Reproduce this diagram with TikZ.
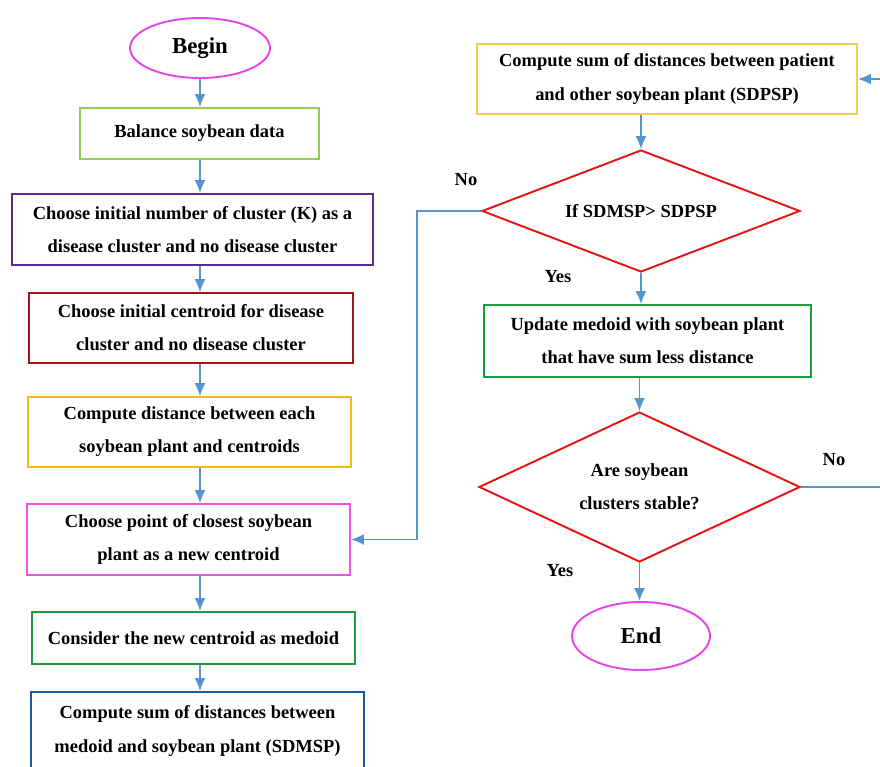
\documentclass[tikz,border=0pt]{standalone}
\usepackage{fontspec}
\setmainfont{Liberation Serif}
\usetikzlibrary{shapes.geometric, arrows.meta, positioning, calc}
\definecolor{flowblue}{RGB}{84,148,207}
\definecolor{ovalpink}{RGB}{230,70,230}
\definecolor{lightgreen}{RGB}{146,204,80}
\definecolor{darkpurple}{RGB}{95,40,140}
\definecolor{darkred}{RGB}{160,20,20}
\definecolor{amber}{RGB}{245,185,20}
\definecolor{pinkbox}{RGB}{240,80,230}
\definecolor{midgreen}{RGB}{30,155,60}
\definecolor{navyblue}{RGB}{30,90,160}
\definecolor{paleamber}{RGB}{245,205,80}
\definecolor{condred}{RGB}{230,20,20}
\tikzstyle{terminal} = [ellipse, draw=ovalpink, line width=1.1pt, minimum width=2.8cm, minimum height=1.2cm, font=\fontsize{13}{15}\selectfont\bfseries]
\tikzstyle{block} = [rectangle, draw, line width=1.1pt, align=center, minimum height=1.4cm, font=\fontsize{10.5}{18.8}\selectfont\bfseries]
\tikzstyle{decision} = [diamond, draw=condred, line width=1.1pt, inner sep=0pt, align=center, font=\fontsize{10.5}{18.8}\selectfont\bfseries]
\tikzstyle{line} = [draw=flowblue, line width=0.85pt, -{Latex[length=2.6mm,width=2.2mm]}]
\tikzstyle{wire} = [draw=flowblue, line width=0.85pt]
\tikzstyle{answer} = [font=\fontsize{10.5}{12}\selectfont\bfseries]

\begin{document}
\begin{tikzpicture}
        \path[use as bounding box, clip] (0,0) rectangle (17.6,-15.32);

        \node (begin) [terminal] at (4.0,-0.96) {Begin};
        \node (balance) [block, draw=lightgreen, minimum width=4.78cm, minimum height=1.02cm] at (3.99,-2.67) {Balance soybean data};
        \node (choosek) [block, draw=darkpurple, minimum width=7.22cm, minimum height=1.42cm] at (3.85,-4.59) {Choose initial number of cluster (K) as a\\disease cluster and no disease cluster};
        \node (centroid) [block, draw=darkred, minimum width=6.48cm] at (3.82,-6.56) {Choose initial centroid for disease\\cluster and no disease cluster};
        \node (distance) [block, draw=amber, minimum width=6.46cm] at (3.79,-8.64) {Compute distance between each\\soybean plant and centroids};
        \node (closest) [block, draw=pinkbox, minimum width=6.46cm, minimum height=1.42cm] at (3.77,-10.79) {Choose point of closest soybean\\plant as a new centroid};
        \node (medoid) [block, draw=midgreen, minimum width=6.46cm, minimum height=1.04cm] at (3.87,-12.76) {Consider the new centroid as medoid};
        \node (sdmsp) [block, draw=navyblue, minimum width=6.66cm, minimum height=1.56cm] at (3.95,-14.62) {Compute sum of distances between\\medoid and soybean plant (SDMSP)};

        \node (sdpsp) [block, draw=paleamber, minimum width=7.6cm] at (13.34,-1.58) {Compute sum of distances between patient\\and other soybean plant (SDPSP)};
        \node (compare) [decision, aspect=2.6, minimum width=6.36cm, minimum height=2.44cm] at (12.82,-4.22) {If SDMSP> SDPSP};
        \node (update) [block, draw=midgreen, minimum width=6.54cm, minimum height=1.44cm] at (12.95,-6.82) {Update medoid with soybean plant\\that have sum less distance};
        \node (stable) [decision, aspect=2.14, minimum width=6.42cm, minimum height=3.0cm] at (12.79,-9.74) {Are soybean\\clusters stable?};
        \node (end) [terminal, minimum width=2.76cm, minimum height=1.36cm] at (12.82,-12.72) {End};

        \node (no1) [answer] at (9.32,-3.6) {No};
        \node (yes1) [answer] at (11.16,-5.54) {Yes};
        \node (no2) [answer] at (16.68,-9.2) {No};
        \node (yes2) [answer] at (11.2,-11.42) {Yes};

        \coordinate (turn) at (8.34,-4.22);
        \coordinate (loopout) at (17.6,-9.74);
        \coordinate (loopin) at (17.6,-1.58);

        \path [line] (begin) -- (balance.north -| begin);
        \path [line] (balance.south -| begin) -- (choosek.north -| begin);
        \path [line] (choosek.south -| begin) -- (centroid.north -| begin);
        \path [line] (centroid.south -| begin) -- (distance.north -| begin);
        \path [line] (distance.south -| begin) -- (closest.north -| begin);
        \path [line] (closest.south -| begin) -- (medoid.north -| begin);
        \path [line] (medoid.south -| begin) -- (sdmsp.north -| begin);

        \path [line] (loopin) -- (sdpsp.east);
        \path [line] (sdpsp.south -| compare) -- (compare.north);
        \path [line] (compare.west) -- (turn) |- (closest.east);
        \path [line] (compare.south) -- (update.north -| compare);
        \path [line] (update.south -| stable) -- (stable.north);
        \path [line] (stable.south) -- (stable.south |- end.north);
        \path [wire] (stable.east) -- (loopout);

    \end{tikzpicture}
\end{document}
